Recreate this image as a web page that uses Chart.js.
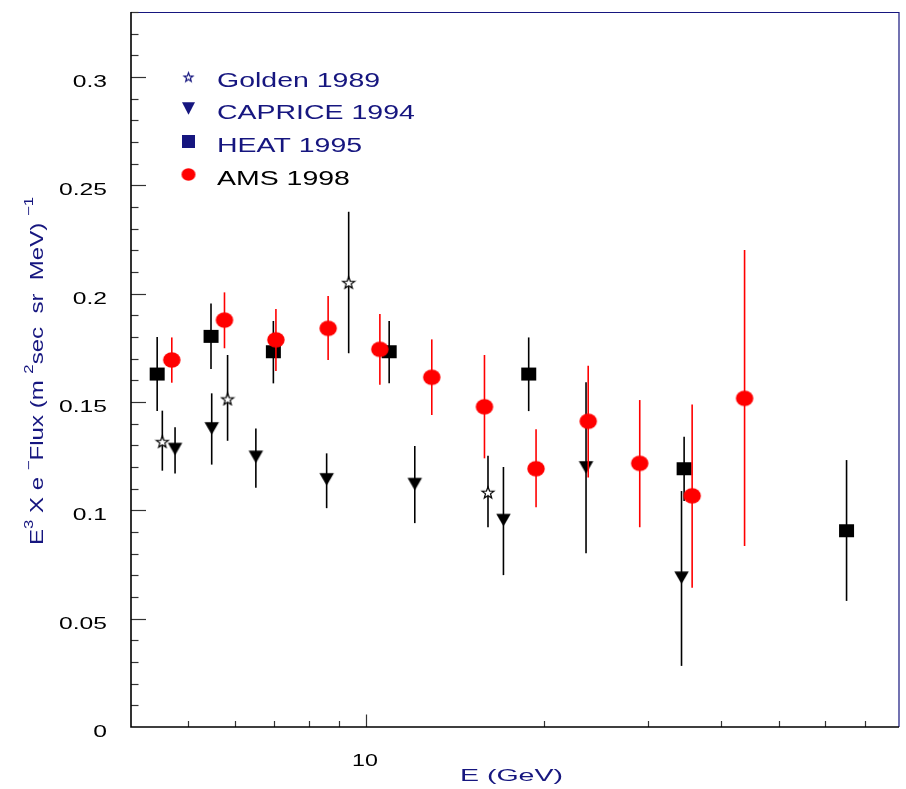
<!DOCTYPE html>
<html>
<head>
<meta charset="utf-8">
<script src="https://cdn.jsdelivr.net/npm/chart.js@4.4.1/dist/chart.umd.min.js"></script>
<style>
  html, body { margin: 0; padding: 0; background: #fff; }
  #wrap { width: 906px; height: 789px; position: relative; }
</style>
</head>
<body>
<div id="wrap"><canvas id="fluxChart"></canvas></div>
<script>
// Golden 1989
const goldenE    = [4.52, 5.83, 9.35, 16.1];
const goldenFlux = [0.1317, 0.1514, 0.2051, 0.1083];
const goldenLow  = [0.1183, 0.1321, 0.1725, 0.0922];
const goldenHigh = [0.146, 0.1717, 0.2378, 0.1252];

// CAPRICE 1994
const capriceE    = [4.75, 5.48, 6.51, 8.58, 12.1, 17.1, 23.6, 34.25];
const capriceFlux = [0.1283, 0.1378, 0.1247, 0.1143, 0.1121, 0.0955, 0.1198, 0.0689];
const capriceLow  = [0.117, 0.1211, 0.1104, 0.101, 0.0941, 0.0701, 0.0802, 0.0282];
const capriceHigh = [0.1383, 0.154, 0.1378, 0.1263, 0.1297, 0.12, 0.1591, 0.1089];

// HEAT 1995
const heatE    = [4.43, 5.465, 6.97, 10.95, 18.87, 34.6, 65.2];
const heatFlux = [0.1629, 0.1803, 0.1732, 0.1732, 0.1629, 0.1192, 0.0906];
const heatLow  = [0.1458, 0.1652, 0.1586, 0.1586, 0.1458, 0.1043, 0.0582];
const heatHigh = [0.18, 0.1955, 0.1874, 0.1874, 0.1798, 0.134, 0.1232];

// AMS 1998
const amsE    = [4.69, 5.76, 7.04, 8.63, 10.56, 12.93, 15.88, 19.42, 23.8, 29.1, 35.7, 43.8];
const amsFlux = [0.1694, 0.1878, 0.1787, 0.184, 0.1743, 0.1614, 0.1478, 0.1192, 0.1411, 0.1217, 0.1067, 0.1517];
const amsLow  = [0.1589, 0.1748, 0.1643, 0.1694, 0.158, 0.144, 0.124, 0.1014, 0.1152, 0.0922, 0.0643, 0.0835];
const amsHigh = [0.1798, 0.2006, 0.1929, 0.1989, 0.1906, 0.1789, 0.1717, 0.1374, 0.1667, 0.1509, 0.1489, 0.2201];

// axes
const xLabelTicks = [10];
const xMinorTicks = [5, 6, 7, 8, 9, 20, 30, 40, 50, 60, 70];
const yTicks = [0, 0.05, 0.1, 0.15, 0.2, 0.25, 0.3];
const yTickLabels = ['0', '0.05', '0.1', '0.15', '0.2', '0.25', '0.3'];

const NAVY = '#16167f';
const FONT = '"Liberation Sans", Arial, sans-serif';

function marker(kind, w, h, fill, stroke) {
  const c = document.createElement('canvas');
  c.width = Math.ceil(w) + 4;
  c.height = Math.ceil(h) + 4;
  const g = c.getContext('2d');
  const cx = c.width / 2, cy = c.height / 2;
  g.fillStyle = fill;
  g.strokeStyle = stroke;
  g.lineWidth = 1.2;
  g.beginPath();
  if (kind === 'square') {
    g.rect(cx - w / 2, cy - h / 2, w, h);
  } else if (kind === 'circle') {
    g.ellipse(cx, cy, w / 2, h / 2, 0, 0, Math.PI * 2);
  } else if (kind === 'tri') {
    g.moveTo(cx - w / 2, cy - h / 2);
    g.lineTo(cx + w / 2, cy - h / 2);
    g.lineTo(cx, cy + h / 2);
    g.closePath();
  } else if (kind === 'star') {
    const rx = w / 1.9, ry = h / 1.81;
    const oy = cy + ry * 0.1;
    for (let i = 0; i < 10; i++) {
      const r = i % 2 ? 0.42 : 1;
      const a = -Math.PI / 2 + i * Math.PI / 5;
      const px = cx + Math.cos(a) * r * rx;
      const py = oy + Math.sin(a) * r * ry;
      if (i === 0) g.moveTo(px, py); else g.lineTo(px, py);
    }
    g.closePath();
    g.fill();
    g.stroke();
    return c;
  }
  g.fill();
  return c;
}

const series = [
  { label: 'Golden 1989', xs: goldenE, ys: goldenFlux, low: goldenLow, high: goldenHigh,
    style: marker('star', 12, 11, '#fff', '#000'), legendStyle: marker('star', 9, 8.5, '#fff', NAVY),
    barColor: '#000', textColor: NAVY, order: 3 },
  { label: 'CAPRICE 1994', xs: capriceE, ys: capriceFlux, low: capriceLow, high: capriceHigh,
    style: marker('tri', 14.5, 12.5, '#000'), legendStyle: marker('tri', 13, 12.5, NAVY),
    barColor: '#000', textColor: NAVY, order: 2 },
  { label: 'HEAT 1995', xs: heatE, ys: heatFlux, low: heatLow, high: heatHigh,
    style: marker('square', 15, 13, '#000'), legendStyle: marker('square', 13, 13, NAVY),
    barColor: '#000', textColor: NAVY, order: 1 },
  { label: 'AMS 1998', xs: amsE, ys: amsFlux, low: amsLow, high: amsHigh,
    style: marker('circle', 17.5, 15.5, '#ff0000'), legendStyle: marker('circle', 14, 12.5, '#ff0000'),
    barColor: '#ff0000', textColor: '#000', order: 0 }
];

function stretchedText(ctx, str, x, y, size, sx, align, color) {
  ctx.save();
  ctx.translate(x, y);
  ctx.scale(sx, 1);
  ctx.font = size + 'px ' + FONT;
  ctx.fillStyle = color;
  ctx.textAlign = align;
  ctx.textBaseline = 'alphabetic';
  ctx.fillText(str, 0, 0);
  ctx.restore();
}

function fittedText(ctx, str, x, y, size, width, align, color) {
  ctx.font = size + 'px ' + FONT;
  const sx = width / ctx.measureText(str).width;
  stretchedText(ctx, str, x, y, size, sx, align, color);
}

const errorBars = {
  id: 'errorBars',
  beforeDatasetDraw(chart, args) {
    const ds = chart.data.datasets[args.index];
    const { ctx, scales: { x, y } } = chart;
    ctx.save();
    ctx.strokeStyle = ds.barColor;
    ctx.lineWidth = 1.6;
    ds.xs.forEach((e, i) => {
      const px = x.getPixelForValue(e);
      ctx.beginPath();
      ctx.moveTo(px, y.getPixelForValue(ds.low[i]));
      ctx.lineTo(px, y.getPixelForValue(ds.high[i]));
      ctx.stroke();
    });
    ctx.restore();
  }
};

const frame = {
  id: 'frame',
  beforeDatasetsDraw(chart) {
    const { ctx, chartArea: a, scales: { x, y } } = chart;
    ctx.save();
    // top and right frame
    ctx.strokeStyle = NAVY;
    ctx.lineWidth = 1.2;
    ctx.beginPath();
    ctx.moveTo(a.left, a.top + 0.5);
    ctx.lineTo(a.right, a.top + 0.5);
    ctx.lineTo(a.right, a.bottom);
    ctx.stroke();

    // y ticks
    ctx.strokeStyle = '#333';
    ctx.lineWidth = 1.2;
    for (let v = 0.01; v < 0.335; v += 0.01) {
      const py = Math.round(y.getPixelForValue(v)) + 0.5;
      const major = yTicks.some(t => Math.abs(t - v) < 1e-6);
      ctx.beginPath();
      ctx.moveTo(a.left, py);
      ctx.lineTo(a.left + (major ? 15 : 7.5), py);
      ctx.stroke();
    }
    // x ticks
    xMinorTicks.forEach(v => {
      const px = Math.round(x.getPixelForValue(v)) + 0.5;
      ctx.beginPath();
      ctx.moveTo(px, a.bottom);
      ctx.lineTo(px, a.bottom - 6);
      ctx.stroke();
    });
    xLabelTicks.forEach(v => {
      const px = Math.round(x.getPixelForValue(v)) + 0.5;
      ctx.beginPath();
      ctx.moveTo(px, a.bottom);
      ctx.lineTo(px, a.bottom - 12.5);
      ctx.stroke();
    });

    // left and bottom axes
    ctx.strokeStyle = '#000';
    ctx.lineWidth = 1.6;
    ctx.beginPath();
    ctx.moveTo(a.left, a.top);
    ctx.lineTo(a.left, a.bottom);
    ctx.lineTo(a.right, a.bottom);
    ctx.stroke();
    ctx.restore();
  },
  afterDraw(chart) {
    const { ctx, chartArea: a, scales: { x, y } } = chart;
    // tick labels
    yTicks.forEach((v, i) => {
      stretchedText(ctx, yTickLabels[i], a.left - 24, y.getPixelForValue(v) + 10, 17, 1.45, 'right', '#000');
    });
    xLabelTicks.forEach(v => {
      stretchedText(ctx, String(v), x.getPixelForValue(v) - 1, a.bottom + 39, 16, 1.45, 'center', '#000');
    });
    // x title
    fittedText(ctx, 'E (GeV)', 511.5, 781, 17, 103, 'center', NAVY);

    // y title, rotated, with superscripts
    const parts = [
      ['E', 0], ['3', 1], [' X e ', 0], ['\u2212', 1], ['Flux (m ', 0], ['2', 1],
      ['sec  sr  MeV)', 0], [' ', 0], ['\u2212', 1], ['1', 1]
    ];
    const reg = '18px ' + FONT, sup = '12.5px ' + FONT;
    let total = 0;
    parts.forEach(p => { ctx.font = p[1] ? sup : reg; total += ctx.measureText(p[0]).width; });
    const sx = 348 / total;
    ctx.save();
    ctx.translate(43, 545);
    ctx.rotate(-Math.PI / 2);
    ctx.scale(sx, 1);
    ctx.fillStyle = NAVY;
    ctx.textBaseline = 'alphabetic';
    ctx.textAlign = 'left';
    let pos = 0;
    parts.forEach(p => {
      ctx.font = p[1] ? sup : reg;
      ctx.fillText(p[0], pos, p[1] ? -10 : 0);
      pos += ctx.measureText(p[0]).width;
    });
    ctx.restore();

    // legend
    const rowY = [77, 108.5, 141.5, 174.5];
    series.forEach((s, i) => {
      const img = s.legendStyle;
      ctx.drawImage(img, 188.5 - img.width / 2, rowY[i] - img.height / 2);
      stretchedText(ctx, s.label, 217, rowY[i] + 10, 19.5, 1.46, 'left', s.textColor);
    });
  }
};

new Chart(document.getElementById('fluxChart'), {
  type: 'scatter',
  data: {
    datasets: series.map(s => ({
      label: s.label,
      data: s.xs.map((e, i) => ({ x: e, y: s.ys[i] })),
      xs: s.xs,
      low: s.low,
      high: s.high,
      barColor: s.barColor,
      order: s.order,
      pointStyle: s.style,
      pointRadius: 8,
      showLine: false
    }))
  },
  options: {
    responsive: true,
    maintainAspectRatio: false,
    animation: false,
    layout: { autoPadding: false, padding: { left: 131, right: 7, top: 12, bottom: 62 } },
    plugins: { legend: { display: false }, tooltip: { enabled: false } },
    scales: {
      x: { type: 'logarithmic', min: 4, max: 80, display: false },
      y: { type: 'linear', min: 0, max: 0.33, display: false }
    }
  },
  plugins: [errorBars, frame]
});
</script>
</body>
</html>
